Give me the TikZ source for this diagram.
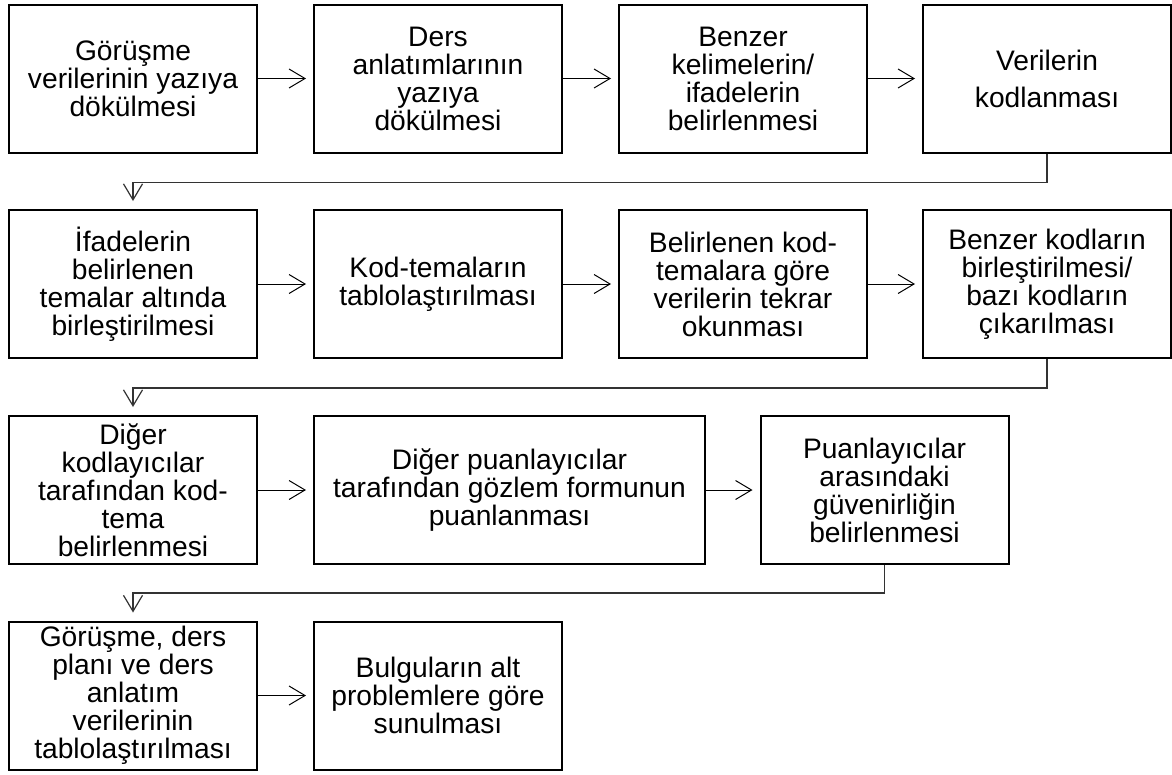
\documentclass[tikz,border=0pt]{standalone}
\usepackage{fontspec}
\setmainfont{Liberation Sans}
\usetikzlibrary{arrows.meta,calc}
\begin{document}
\begin{tikzpicture}[x=1pt,y=-1pt,
  box/.style={draw=black,line width=2pt,minimum width=248pt,minimum height=148pt,
    align=center,inner sep=1pt,font=\fontsize{28.2}{28}\selectfont},
  arr/.style={draw=black,line width=1pt,-{Straight Barb[length=16pt,width=19pt]},shorten >=7pt},
  conn/.style={draw=black!80,line width=1.2pt,-{Straight Barb[length=16pt,width=19pt]},shorten >=8pt}]
\useasboundingbox (0,0) rectangle (1172,774);
% row 1
\node[box] (b1) at (133,78.5) {Görüşme\\verilerinin yazıya\\dökülmesi};
\node[box] (b2) at (438,78.5) {Ders\\anlatımlarının\\yazıya\\dökülmesi};
\node[box] (b3) at (743,78.5) {Benzer\\kelimelerin/\\ifadelerin\\belirlenmesi};
\node[box] (b4) at (1047,78.5) {Verilerin\\[9pt]kodlanması};
% row 2
\node[box] (b5) at (133,284) {İfadelerin\\belirlenen\\temalar altında\\birleştirilmesi};
\node[box] (b6) at (438,284) {Kod-temaların\\tablolaştırılması};
\node[box] (b7) at (743,284) {Belirlenen kod-\\temalara göre\\verilerin tekrar\\okunması};
\node[box] (b8) at (1047,284) {Benzer kodların\\birleştirilmesi/\\bazı kodların\\çıkarılması};
% row 3
\node[box] (b9) at (133,490) {Diğer\\kodlayıcılar\\tarafından kod-\\tema\\belirlenmesi};
\node[box,minimum width=391pt] (b10) at (509.5,490) {Diğer puanlayıcılar\\tarafından gözlem formunun\\puanlanması};
\node[box] (b11) at (884.5,490) {Puanlayıcılar\\arasındaki\\güvenirliğin\\belirlenmesi};
% row 4
\node[box] (b12) at (133,695.5) {Görüşme, ders\\planı ve ders\\anlatım\\verilerinin\\tablolaştırılması};
\node[box] (b13) at (438,695.5) {Bulguların alt\\problemlere göre\\sunulması};
% horizontal arrows
\draw[arr] (b1) -- (b2);
\draw[arr] (b2) -- (b3);
\draw[arr] (b3) -- (b4);
\draw[arr] (b5) -- (b6);
\draw[arr] (b6) -- (b7);
\draw[arr] (b7) -- (b8);
\draw[arr] (b9) -- (b10);
\draw[arr] (b10) -- (b11);
\draw[arr] (b12) -- (b13);
% row connectors
\draw[conn] (b4.south) -- ++(0,29) -| (b5.north);
\draw[conn] (b8.south) -- ++(0,29) -| (b9.north);
\draw[conn] (b11.south) -- ++(0,28) -| (b12.north);
\end{tikzpicture}
\end{document}
